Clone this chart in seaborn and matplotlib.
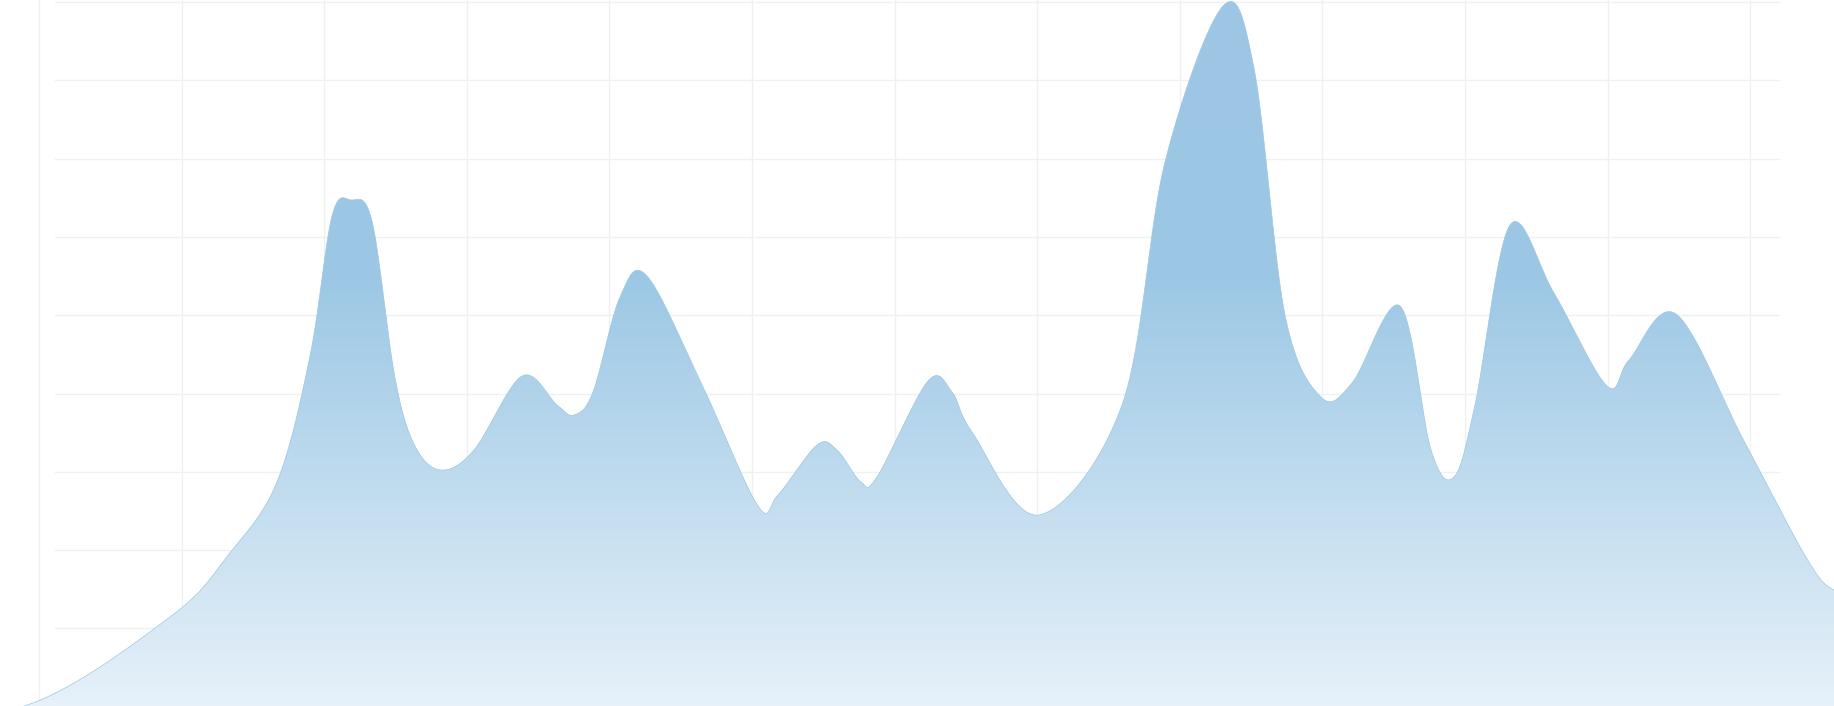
import numpy as np
import pandas as pd
import matplotlib
matplotlib.use("Agg")
import matplotlib.pyplot as plt
import seaborn as sns
from matplotlib.colors import LinearSegmentedColormap

# points (x in px, value = height above the bottom)
x_pts = [24, 170, 229, 277, 310, 332, 351, 372, 395, 415, 441, 474, 522, 557, 574, 593, 620,
         647, 703, 758, 778, 817, 837, 861, 877, 928, 952, 972, 1039, 1122, 1165, 1223,
         1254, 1285, 1321, 1352, 1400, 1431, 1454, 1475, 1510, 1554, 1607, 1629, 1676,
         1744, 1807, 1834]
y_top = [706, 617, 554, 482, 356, 216, 200, 221, 378, 446, 470, 450, 376, 405, 415, 392, 297,
         276, 387, 506, 495, 445, 450, 482, 477, 381, 392, 432, 515, 405, 162, 6,
         68, 315, 397, 383, 306, 450, 477, 405, 225, 293, 386, 360, 314,
         441, 559, 590]
values = [706 - v for v in y_top]

grid_x = [39 + 142.6 * i for i in range(13)]
grid_y = [2 + 78.3 * i for i in range(9)]


def catmull(xs, ys, n=30):
    xs = np.asarray(xs, float); ys = np.asarray(ys, float)
    px = np.concatenate([[2 * xs[0] - xs[1]], xs, [2 * xs[-1] - xs[-2]]])
    py = np.concatenate([[ys[0]], ys, [ys[-1]]])
    ox, oy = [], []
    t = np.linspace(0, 1, n, endpoint=False)
    for i in range(1, len(px) - 2):
        for arr, out in ((px, ox), (py, oy)):
            p0, p1, p2, p3 = arr[i - 1:i + 3]
            out.extend(0.5 * (2 * p1 + (-p0 + p2) * t + (2 * p0 - 5 * p1 + 4 * p2 - p3) * t ** 2
                              + (-p0 + 3 * p1 - 3 * p2 + p3) * t ** 3))
    ox.append(xs[-1]); oy.append(ys[-1])
    return np.array(ox), np.array(oy)


sns.set_style("white")
fig = plt.figure(figsize=(18.34, 7.06), dpi=100)
ax = fig.add_axes([0, 0, 1, 1])
ax.set_xlim(0, 1834)
ax.set_ylim(0, 706)
ax.axis("off")

for gx in grid_x:
    ax.axvline(gx, color="#eef0f2", lw=1, zorder=0)
for gy in grid_y:
    ax.axhline(706 - gy, xmin=0.03, xmax=0.97, color="#eef0f2", lw=1, zorder=0)

sx, sy = catmull(x_pts, values)
df = pd.DataFrame({"x": sx, "y": sy})
sns.lineplot(data=df, x="x", y="y", ax=ax, color="#9cc7e5", lw=0.5, sort=False)

poly = ax.fill_between(df["x"], 0, df["y"], color="none", lw=0)
cmap = LinearSegmentedColormap.from_list("g", [(0, "#e6f1f9"), (0.6, "#9dc8e5"), (1, "#9cc6e4")])
grad = np.linspace(0, 1, 706).reshape(-1, 1)
grad = np.clip(grad / 0.6, 0, 1) * 0.6 + (grad > 0.6) * (grad - 0.6)
im = ax.imshow(grad, extent=[0, 1834, 0, 706], origin="lower", cmap=cmap, aspect="auto", zorder=1)
im.set_clip_path(poly.get_paths()[0], transform=ax.transData)
ax.get_legend() and ax.get_legend().remove()

fig.savefig("out.png", dpi=100)
